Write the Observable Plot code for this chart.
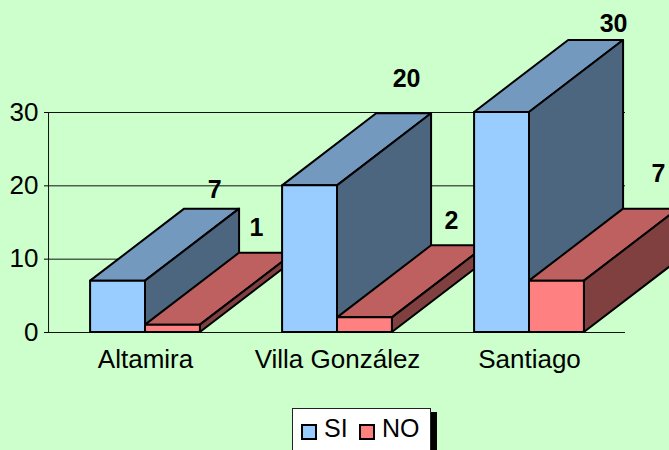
<!DOCTYPE html>
<html lang="es">
<head>
<meta charset="utf-8">
<script src="https://cdn.jsdelivr.net/npm/d3@7"></script>
<script src="https://cdn.jsdelivr.net/npm/@observablehq/plot@0.6"></script>
<style>
html,body{margin:0;padding:0;width:669px;height:450px;overflow:hidden;background:#CCFFCC;font-family:"Liberation Sans",Arial,sans-serif;color:#000}
#chart{position:absolute;left:0;top:0}
#legend{position:absolute;left:292px;top:408px;width:137px;height:60px;border:1px solid #222;box-shadow:6px 4px 0 #000;background:#fff}
#legend>*{position:absolute}
.sw{width:12px;height:12px;border:2px solid #000;top:15px}
.lb{font-size:25px;line-height:28px;top:5px}
</style>
</head>
<body>
<div id="chart"></div>
<div id="legend">
  <span class="sw" style="left:8px;background:#99CCFF"></span><span class="lb" style="left:31px">SI</span>
  <span class="sw" style="left:66px;background:#FF8080"></span><span class="lb" style="left:89px">NO</span>
</div>
<script>
const categories = ["Altamira", "Villa González", "Santiago"];
const si = [7, 20, 30];
const no = [1, 2, 7];
const yTicks = [0, 10, 20, 30];

// 3D look (in scale units) and label nudges (in pixels)
const barW = 0.286, depthX = 0.49, depthY = 9.82;
const siNudge = [[-25, -19], [-25, -35], [-10, -16]];
const noNudge = [[-38, -25], [-35, -25], [-20, -35]];
const siCols = ["#99CCFF", "#7399BF", "#4D6680"];
const noCols = ["#FF8080", "#BF6060", "#804040"];

function barMarks(x0, x1, v, cols, nudge) {
  const common = {stroke: "#000", strokeWidth: 2, strokeLinejoin: "round"};
  return [
    Plot.areaX([{y: v, a: x0, b: x1}, {y: v + depthY, a: x0 + depthX, b: x1 + depthX}],
      {y: "y", x1: "a", x2: "b", fill: cols[1], ...common}),
    Plot.areaY([{x: x1, a: 0, b: v}, {x: x1 + depthX, a: depthY, b: v + depthY}],
      {x: "x", y1: "a", y2: "b", fill: cols[2], ...common}),
    Plot.rect([{a: x0, b: x1, c: 0, d: v}],
      {x1: "a", x2: "b", y1: "c", y2: "d", fill: cols[0], ...common}),
    Plot.text([{x: x1 + depthX, y: v + depthY, t: String(v)}],
      {x: "x", y: "y", text: "t", dx: nudge[0], dy: nudge[1], fontSize: 25, fontWeight: "bold", fill: "#000"})
  ];
}

const marks = [
  Plot.ruleY(yTicks, {x1: -0.505, x2: 2.5, stroke: "#111", strokeWidth: 1}),
  Plot.ruleX([-0.505], {y1: 0, y2: 30, stroke: "#111", strokeWidth: 1}),
  Plot.axisY({ticks: yTicks, tickSize: 4, tickPadding: 6, fontSize: 26, label: null, anchor: "left", dx: -1}),
  Plot.axisX({ticks: [0, 1, 2], tickFormat: i => categories[i], tickSize: 0, tickPadding: 17, fontSize: 26, label: null, anchor: "bottom"})
];
categories.forEach((c, i) => {
  marks.push(...barMarks(i - barW, i, si[i], siCols, siNudge[i]));
  marks.push(...barMarks(i, i + barW, no[i], noCols, noNudge[i]));
});

const plot = Plot.plot({
  width: 669, height: 408,
  marginLeft: 49, marginRight: 44, marginTop: 112, marginBottom: 76,
  x: {type: "linear", domain: [-0.5, 2.5]},
  y: {type: "linear", domain: [0, 30]},
  style: {background: "transparent", fontFamily: "'Liberation Sans',Arial,sans-serif", color: "#000"},
  marks
});
document.getElementById("chart").appendChild(plot);
</script>
</body>
</html>
